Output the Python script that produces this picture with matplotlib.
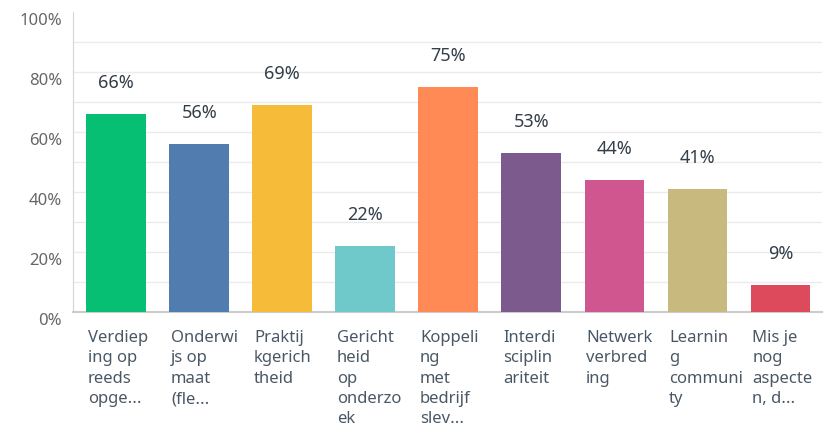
import matplotlib
matplotlib.use("Agg")
import matplotlib.pyplot as plt
from matplotlib.transforms import ScaledTranslation

# answer options (already wrapped/truncated as shown in the survey export)
categories = [
    "Verdiep\ning op\nreeds\nopge...",
    "Onderwi\njs op\nmaat\n(fle...",
    "Praktij\nkgerich\ntheid",
    "Gericht\nheid\nop\nonderzo\nek",
    "Koppeli\nng\nmet\nbedrijf\nslev...",
    "Interdi\nsciplin\nariteit",
    "Netwerk\nverbred\ning",
    "Learnin\ng\ncommuni\nty",
    "Mis je\nnog\naspecte\nn, d...",
]
values = [66, 56, 69, 22, 75, 53, 44, 41, 9]
colors = ["#07bf73", "#507cb0", "#f6bb38", "#6fc8ca", "#ff8a56",
          "#7d5a8e", "#d05690", "#c8b97e", "#dd4a5c"]
yticks = [0, 20, 40, 60, 80, 100]

plt.rcParams["font.family"] = ["Noto Sans", "DejaVu Sans"]

fig = plt.figure(figsize=(8.28, 4.34), dpi=100)
ax = fig.add_axes([73/828, (434-312)/434, (822-73)/828, 300/434])

x = list(range(len(values)))
ax.bar(x, values, width=0.72, color=colors, zorder=3)
ax.set_xlim(-0.52, 8.5)
ax.set_ylim(0, 100)

for i, v in enumerate(values):
    ax.annotate(f"{v}%", (i, v), xytext=(0, 22), textcoords="offset points",
                ha="center", va="center", fontsize=13, color="#333e48")

for i, c in enumerate(categories):
    ax.annotate(c, (i - 0.34, 0), xycoords=("data", "axes fraction"),
                xytext=(0, -13), textcoords="offset points", ha="left", va="top",
                fontsize=12, color="#4a5866", linespacing=1.36)

ax.set_xticks([])
ax.set_yticks(yticks)
ax.set_yticklabels([f"{t}%" for t in yticks], fontsize=12, color="#666666")
ax.tick_params(axis="y", length=0, pad=8)
off = ScaledTranslation(0, -7/100, fig.dpi_scale_trans)
for lab in ax.get_yticklabels():
    lab.set_transform(lab.get_transform() + off)

for g in range(10, 100, 10):
    ax.axhline(g, color="#ebebeb", lw=1, zorder=1)

for s in ["top", "right"]:
    ax.spines[s].set_visible(False)
ax.spines["left"].set_color("#d5d5d5")
ax.spines["bottom"].set_color("#cccccc")
ax.spines["bottom"].set_linewidth(1.5)

fig.savefig("out.png", dpi=100)
